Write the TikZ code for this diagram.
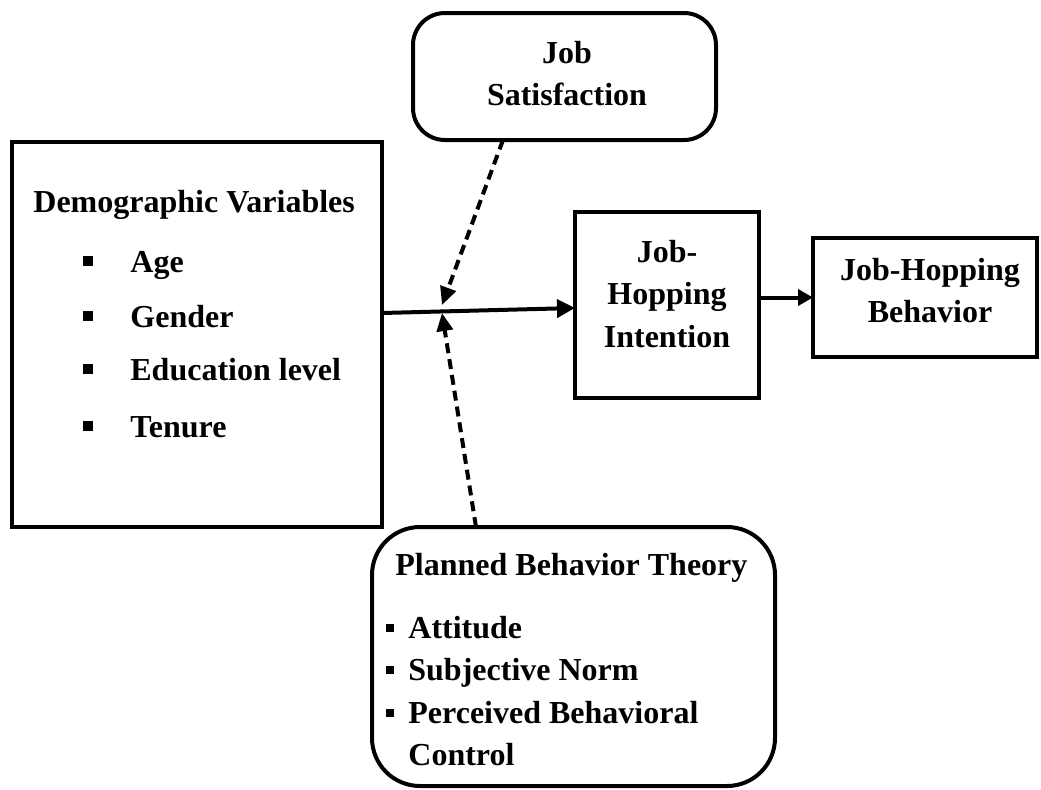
\documentclass[tikz,border=0pt]{standalone}
\usepackage{fontspec}
\setmainfont{Liberation Serif}
\usetikzlibrary{arrows.meta}
\begin{document}
\begin{tikzpicture}[x=0.5pt,y=-0.5pt,
  box/.style={draw,line width=2pt,inner sep=0pt,outer sep=0pt},
  rbox/.style={box,rounded corners=#1},
  txt/.style={inner sep=0pt,font=\fontsize{16pt}{21pt}\selectfont\bfseries},
  bul/.style={fill,inner sep=0pt,minimum size=#1},
  arr/.style={line width=2pt,-{Triangle[length=9pt,width=9pt]}},
  sarr/.style={line width=2pt,-{Triangle[length=7.5pt,width=8pt]}},
  darr/.style={line width=2pt,dash pattern=on 5pt off 3pt,-{Triangle[length=9pt,width=8pt]}}]
\useasboundingbox (0,0) rectangle (1041,789);
% boxes
\node[box,minimum width=185pt,minimum height=192.5pt] (dem) at (197,334.5) {};
\node[rbox=16pt,minimum width=151.5pt,minimum height=63.5pt] (js) at (564.5,76.5) {};
\node[box,minimum width=92pt,minimum height=93pt] (int) at (667,305) {};
\node[box,minimum width=112pt,minimum height=59.5pt] (beh) at (925,297.5) {};
\node[rbox=24pt,minimum width=201.5pt,minimum height=129.5pt] (pbt) at (573.5,656.5) {};
% Job Satisfaction text
\node[txt,anchor=base] (js1) at (567,63) {Job};
\node[txt,anchor=base] (js2) at (567,105) {Satisfaction};
% Demographic
\node[txt,anchor=base west] (d0) at (33,212) {Demographic Variables};
\node[txt,anchor=base west] (d1) at (130,272) {Age};
\node[txt,anchor=base west] (d2) at (130,327) {Gender};
\node[txt,anchor=base west] (d3) at (130,380) {Education level};
\node[txt,anchor=base west] (d4) at (130,437) {Tenure};
\node[bul=4.8pt] (b1) at (88,261) {};
\node[bul=4.8pt] (b2) at (88,316) {};
\node[bul=4.8pt] (b3) at (88,369) {};
\node[bul=4.8pt] (b4) at (88,426) {};
% Intention
\node[txt,anchor=base] (i1) at (667,262) {Job-};
\node[txt,anchor=base] (i2) at (667,304) {Hopping};
\node[txt,anchor=base] (i3) at (667,347) {Intention};
% Behavior
\node[txt,anchor=base] (h1) at (930,280) {Job-Hopping};
\node[txt,anchor=base] (h2) at (930,322) {Behavior};
% Planned Behavior Theory
\node[txt,anchor=base west] (p0) at (395,575) {Planned Behavior Theory};
\node[txt,anchor=base west] (p1) at (408,638) {Attitude};
\node[txt,anchor=base west] (p2) at (408,680) {Subjective Norm};
\node[txt,anchor=base west] (p3) at (408,723) {Perceived Behavioral};
\node[txt,anchor=base west] (p4) at (408,765) {Control};
\node[bul=4pt] (c1) at (390,628) {};
\node[bul=4pt] (c2) at (390,670) {};
\node[bul=4pt] (c3) at (390,713) {};
% connectors
\coordinate (m1) at (442,305);
\coordinate (m2) at (442,313);
\draw[arr] ([yshift=10.75pt]dem.east) -- ([yshift=-1.5pt]int.west);
\draw[darr] ([xshift=-30.75pt]js.south) -- (m1);
\draw[darr] ([xshift=-48.75pt]pbt.north) -- (m2);
\draw[sarr] (int.east |- beh.west) -- (beh.west);
\end{tikzpicture}
\end{document}
